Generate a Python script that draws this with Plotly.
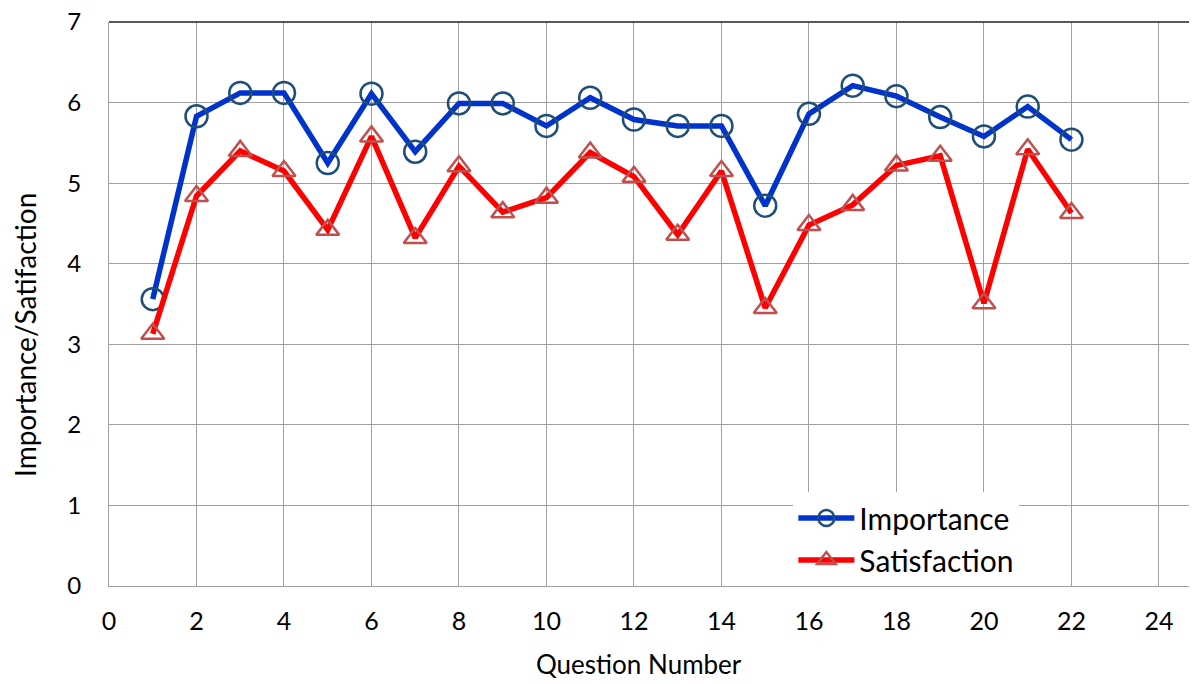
import plotly.graph_objects as go

questions = list(range(1, 23))
importance = [3.56, 5.83, 6.12, 6.12, 5.25, 6.11, 5.39, 5.99, 5.99, 5.71, 6.06,
              5.79, 5.71, 5.71, 4.72, 5.86, 6.21, 6.08, 5.82, 5.58, 5.95, 5.54]
satisfaction = [3.13, 4.84, 5.40, 5.15, 4.42, 5.58, 4.32, 5.21, 4.64, 4.82, 5.38,
                5.08, 4.36, 5.15, 3.45, 4.48, 4.73, 5.22, 5.34, 3.51, 5.42, 4.63]
x_ticks = list(range(0, 25, 2))
y_ticks = list(range(0, 8))

font_family = "Lato, Open Sans, sans-serif"

fig = go.Figure()
fig.add_trace(go.Scatter(
    x=questions, y=importance, name="Importance", mode="lines+markers",
    legendgroup="a",
    line=dict(color="#0033CC", width=5.5),
    marker=dict(symbol="circle-open", size=22, color="#1F4E79", line=dict(width=2.5)),
))
fig.add_trace(go.Scatter(
    x=questions, y=satisfaction, name="Satisfaction", mode="lines+markers",
    legendgroup="b",
    line=dict(color="#FF0000", width=5.5),
    marker=dict(symbol="triangle-up-open", size=20, color="#C0504D", line=dict(width=2.5)),
))

fig.update_layout(
    width=1189, height=676,
    margin=dict(l=101, r=0, t=14, b=98),
    plot_bgcolor="white", paper_bgcolor="white",
    font=dict(family=font_family, size=24, color="black"),
    showlegend=True,
    legend=dict(
        x=0.629, y=0.0, xanchor="left", yanchor="bottom",
        bgcolor="white", borderwidth=0,
        font=dict(size=30, color="black"),
        itemwidth=56, traceorder="grouped", tracegroupgap=0,
    ),
    xaxis=dict(
        range=[0, 24.87], tickvals=x_ticks, showgrid=True, gridcolor="#A0A0A0",
        gridwidth=1, showline=True, linecolor="#A0A0A0", linewidth=1,
        zeroline=False, ticks="outside", ticklen=13, tickcolor="rgba(0,0,0,0)",
        automargin=False, ticklabeloverflow="allow",
        tickfont=dict(size=25),
    ),
    yaxis=dict(
        range=[0, 7], tickvals=y_ticks, showgrid=True, gridcolor="#A0A0A0",
        gridwidth=1, showline=True, linecolor="#A0A0A0", linewidth=1,
        zeroline=False, ticks="outside", ticklen=22, tickcolor="rgba(0,0,0,0)",
        automargin=False, ticklabeloverflow="allow",
        tickfont=dict(size=24),
    ),
    annotations=[
        dict(text="Question Number", xref="paper", yref="paper",
             x=(639 - 109) / 1088, y=-(664 - 586) / 564,
             xanchor="center", yanchor="middle", showarrow=False,
             font=dict(size=26)),
        dict(text="Importance/Satifaction", xref="paper", yref="paper",
             x=-(109 - 25) / 1088, y=(586 - 335) / 564, textangle=-90,
             xanchor="center", yanchor="middle", showarrow=False,
             font=dict(size=28)),
    ],
    shapes=[dict(type="line", xref="paper", yref="paper", x0=0, x1=1, y0=1, y1=1,
                 line=dict(color="#222222", width=1.5))],
)

fig.write_html("out.html")
